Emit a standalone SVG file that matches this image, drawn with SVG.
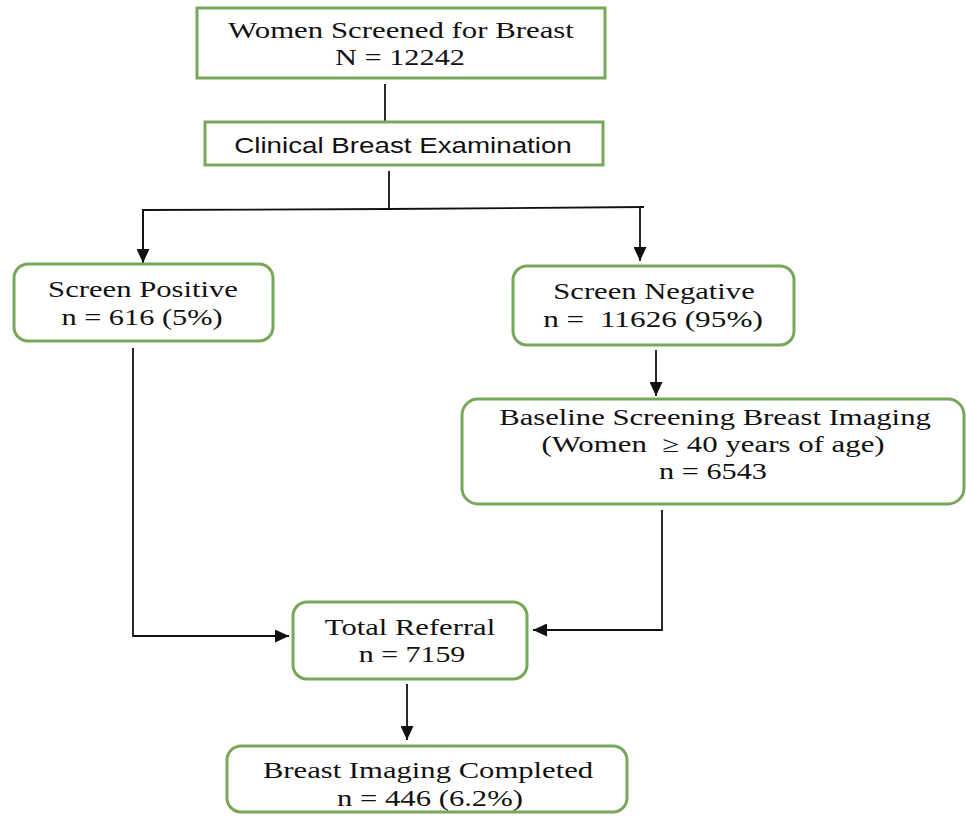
<svg xmlns="http://www.w3.org/2000/svg" width="966" height="818" viewBox="0 0 966 818">
<style>
.box{fill:#fff;stroke:#78a75a;stroke-width:3}
.serif{font-family:"Liberation Serif","Times New Roman",serif;font-size:22.5px;fill:#111;text-anchor:middle;white-space:pre}
.sans{font-family:"Liberation Sans",Arial,sans-serif;font-size:22px;fill:#111;text-anchor:middle}
.conn{fill:none;stroke:#111;stroke-width:1.8}
</style>
<defs>
<marker id="arr" viewBox="0 0 14 13" refX="14" refY="6.5" markerWidth="14" markerHeight="13" markerUnits="userSpaceOnUse" orient="auto">
<path d="M0,0 L14,6.5 L0,13 z" fill="#111"/>
</marker>
</defs>
<rect width="966" height="818" fill="#fff"/>
<g id="connectors">
<line class="conn" x1="385" y1="84" x2="385" y2="121"/>
<line class="conn" x1="389" y1="171" x2="389" y2="209"/>
<polyline class="conn" points="143,263 143,210 389,209 644,207"/>
<line class="conn" x1="640" y1="207" x2="640" y2="261" marker-end="url(#arr)"/>
<line class="conn" x1="143" y1="210" x2="143" y2="263" marker-end="url(#arr)"/>
<polyline class="conn" points="133,348 133,636 289,636" marker-end="url(#arr)"/>
<line class="conn" x1="656" y1="350" x2="656" y2="396" marker-end="url(#arr)"/>
<polyline class="conn" points="662,510 662,630 533,630" marker-end="url(#arr)"/>
<line class="conn" x1="407" y1="684" x2="407" y2="740" marker-end="url(#arr)"/>
</g>
<g id="n1">
<rect class="box" x="197" y="8" width="408" height="70"/>
<text class="serif" transform="translate(401,38) scale(1.3,1)" textLength="266" lengthAdjust="spacingAndGlyphs">Women Screened for Breast</text>
<text class="serif" transform="translate(400,65) scale(1.3,1)" textLength="100" lengthAdjust="spacingAndGlyphs">N = 12242</text>
</g>
<g id="n2">
<rect class="box" x="205" y="122" width="398" height="43"/>
<text class="sans" transform="translate(403,153) scale(1.25,1)" textLength="270" lengthAdjust="spacingAndGlyphs">Clinical Breast Examination</text>
</g>
<g id="n3">
<rect class="box" x="14" y="264" width="259" height="77" rx="14"/>
<text class="serif" transform="translate(143,297) scale(1.3,1)" textLength="146" lengthAdjust="spacingAndGlyphs">Screen Positive</text>
<text class="serif" transform="translate(142,325) scale(1.3,1)" textLength="124" lengthAdjust="spacingAndGlyphs">n = 616 (5%)</text>
</g>
<g id="n4">
<rect class="box" x="513" y="266" width="281" height="79" rx="14"/>
<text class="serif" transform="translate(654,299) scale(1.3,1)" textLength="155" lengthAdjust="spacingAndGlyphs">Screen Negative</text>
<text class="serif" transform="translate(653,327) scale(1.3,1)" textLength="169" lengthAdjust="spacingAndGlyphs">n =  11626 (95%)</text>
</g>
<g id="n5">
<rect class="box" x="462" y="399" width="502" height="105" rx="16"/>
<text class="serif" transform="translate(715,425) scale(1.3,1)" textLength="332" lengthAdjust="spacingAndGlyphs">Baseline Screening Breast Imaging</text>
<text class="serif" transform="translate(713,452) scale(1.3,1)" textLength="264" lengthAdjust="spacingAndGlyphs">(Women  ≥ 40 years of age)</text>
<text class="serif" transform="translate(713,479) scale(1.3,1)" textLength="83" lengthAdjust="spacingAndGlyphs">n = 6543</text>
</g>
<g id="n6">
<rect class="box" x="293" y="602" width="234" height="77" rx="14"/>
<text class="serif" transform="translate(410,635) scale(1.3,1)" textLength="131" lengthAdjust="spacingAndGlyphs">Total Referral</text>
<text class="serif" transform="translate(412,662) scale(1.3,1)" textLength="82" lengthAdjust="spacingAndGlyphs">n = 7159</text>
</g>
<g id="n7">
<rect class="box" x="227" y="746" width="400" height="66" rx="14"/>
<text class="serif" transform="translate(428,778) scale(1.3,1)" textLength="254" lengthAdjust="spacingAndGlyphs">Breast Imaging Completed</text>
<text class="serif" transform="translate(430,806) scale(1.3,1)" textLength="143" lengthAdjust="spacingAndGlyphs">n = 446 (6.2%)</text>
</g>
</svg>
